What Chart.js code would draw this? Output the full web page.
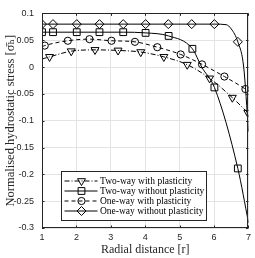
<!DOCTYPE html>
<html><head><meta charset="utf-8">
<script src="https://cdn.jsdelivr.net/npm/chart.js@4.4.0/dist/chart.umd.min.js"></script>
<style>html,body{margin:0;padding:0;background:#fff}</style>
</head><body>
<canvas id="c" width="255" height="258"></canvas>
<script>
// ---- data ----
const seriesNames = ["Two-way with plasticity","Two-way without plasticity","One-way with plasticity","One-way without plasticity"];
const xTicks = [1,2,3,4,5,6,7];
const yTicks = [0.1,0.05,0,-0.05,-0.1,-0.15,-0.2,-0.25,-0.3];
const yTickLabels = ["0.1","0.05","0","-0.05","-0.1","-0.15","-0.2","-0.25","-0.3"];

// Two-way with plasticity (triangles)
const twoWayPlastX = [1, 1.22, 1.85, 2.54, 3.21, 3.87, 4.54, 5.22, 5.87, 6.53, 6.98];
const twoWayPlastY = [0.015, 0.019, 0.0296, 0.032, 0.031, 0.028, 0.019, 0.0044, -0.021, -0.057, -0.085];
const twoWayPlastMarkX = [1.22, 1.85, 2.54, 3.21, 3.87, 4.54, 5.22, 5.87, 6.53, 6.98];
const twoWayPlastMarkY = [0.019, 0.0296, 0.032, 0.031, 0.028, 0.019, 0.0044, -0.021, -0.057, -0.085];

// Two-way without plasticity (squares)
const twoWayElasX = [1, 1.32, 2.01, 2.67, 3.36, 4.01, 4.68, 5.37, 5.64, 6.01, 6.69, 7];
const twoWayElasY = [0.065, 0.065, 0.065, 0.065, 0.065, 0.0637, 0.058, 0.034, 0.0, -0.038, -0.189, -0.29];
const twoWayElasMarkX = [1, 1.32, 2.01, 2.67, 3.36, 4.01, 4.68, 5.37, 6.01, 6.69];
const twoWayElasMarkY = [0.065, 0.065, 0.065, 0.065, 0.065, 0.0637, 0.058, 0.034, -0.038, -0.189];

// One-way with plasticity (circles)
const oneWayPlastX = [1, 1.08, 1.75, 2.38, 3.02, 3.70, 4.35, 5.03, 5.65, 6.30, 6.91, 7];
const oneWayPlastY = [0.038, 0.040, 0.049, 0.052, 0.049, 0.047, 0.037, 0.0235, 0.005, -0.0177, -0.041, -0.045];
const oneWayPlastMarkX = [1.08, 1.75, 2.38, 3.02, 3.70, 4.35, 5.03, 5.65, 6.30, 6.91];
const oneWayPlastMarkY = [0.040, 0.049, 0.052, 0.049, 0.047, 0.037, 0.0235, 0.005, -0.0177, -0.041];

// One-way without plasticity (diamonds)
const oneWayElasX = [1, 1.32, 2.01, 2.67, 3.36, 4.01, 4.67, 5.35, 6.01, 6.35, 6.5, 6.69, 6.86, 7];
const oneWayElasY = [0.08, 0.08, 0.08, 0.08, 0.08, 0.08, 0.08, 0.08, 0.08, 0.079, 0.071, 0.047, 0.0, -0.12];
const oneWayElasMarkX = [1, 1.32, 2.01, 2.67, 3.36, 4.01, 4.67, 5.35, 6.01, 6.69];
const oneWayElasMarkY = [0.08, 0.08, 0.08, 0.08, 0.08, 0.08, 0.08, 0.08, 0.08, 0.047];

const zip = (xs, ys) => xs.map((x, i) => ({x, y: ys[i]}));

const styles = [
  {dash:[5,2,1,2], point:'triangle', rot:180, r:4.6},
  {dash:[], point:'rect', rot:0, r:4.8},
  {dash:[4,3], point:'circle', rot:0, r:3.6},
  {dash:[], point:'rectRot', rot:0, r:4.5},
];
const lines = [zip(twoWayPlastX,twoWayPlastY), zip(twoWayElasX,twoWayElasY), zip(oneWayPlastX,oneWayPlastY), zip(oneWayElasX,oneWayElasY)];
const marks = [zip(twoWayPlastMarkX,twoWayPlastMarkY), zip(twoWayElasMarkX,twoWayElasMarkY), zip(oneWayPlastMarkX,oneWayPlastMarkY), zip(oneWayElasMarkX,oneWayElasMarkY)];

const datasets = [];
lines.forEach((d, i) => {
  datasets.push({label: seriesNames[i], data: d, borderColor:'#000', borderWidth:1, borderDash: styles[i].dash,
    pointRadius:0, cubicInterpolationMode:'monotone', fill:false});
  datasets.push({label: seriesNames[i] + ' markers', data: marks[i], showLine:false, pointStyle: styles[i].point,
    pointRotation: styles[i].rot, pointRadius: styles[i].r, pointBorderWidth:1, pointBorderColor:'#000',
    pointBackgroundColor:'rgba(0,0,0,0)', borderColor:'#000'});
});

const boxPlugin = {
  id:'boxAndLegend',
  afterDraw(chart){
    const ctx = chart.ctx, a = chart.chartArea;
    const xs = chart.scales.x, ys = chart.scales.y;
    ctx.save();
    ctx.strokeStyle = '#262626'; ctx.lineWidth = 1; ctx.setLineDash([]);
    ctx.strokeRect(Math.round(a.left)+0.5, Math.round(a.top)+0.5, Math.round(a.right-a.left)-1, Math.round(a.bottom-a.top)-1);
    // inward ticks
    ctx.beginPath();
    xTicks.forEach(v => { const p = Math.round(xs.getPixelForValue(v))+0.5;
      ctx.moveTo(p, a.bottom); ctx.lineTo(p, a.bottom-2.5); ctx.moveTo(p, a.top); ctx.lineTo(p, a.top+2.5); });
    yTicks.forEach(v => { const p = Math.round(ys.getPixelForValue(v))+0.5;
      ctx.moveTo(a.left, p); ctx.lineTo(a.left+2.5, p); ctx.moveTo(a.right, p); ctx.lineTo(a.right-2.5, p); });
    ctx.stroke();
    // legend
    const bx = Math.round(a.left + 19)+0.5, by = Math.round(a.top + 158)+0.5, bw = 145, bh = 49;
    ctx.fillStyle = '#fff'; ctx.fillRect(bx, by, bw, bh);
    ctx.strokeStyle = '#262626'; ctx.strokeRect(bx, by, bw, bh);
    ctx.font = '9.5px "Liberation Serif", serif';
    ctx.textBaseline = 'middle'; ctx.textAlign = 'left';
    seriesNames.forEach((name, i) => {
      const y = by + 9.5 + i*10;
      ctx.strokeStyle = '#000'; ctx.lineWidth = 1;
      ctx.setLineDash(styles[i].dash);
      ctx.beginPath(); ctx.moveTo(bx+3, y); ctx.lineTo(bx+36, y); ctx.stroke();
      ctx.setLineDash([]);
      ctx.fillStyle = 'rgba(0,0,0,0)';
      Chart.helpers.drawPoint(ctx, {pointStyle: styles[i].point, rotation: styles[i].rot, radius: styles[i].r, borderWidth:1}, bx+20, y);
      ctx.fillStyle = '#000';
      ctx.fillText(name, bx+38.5, y+0.5);
    });
    ctx.restore();
  }
};

new Chart(document.getElementById('c'), {
  type:'line',
  data:{datasets},
  options:{
    responsive:false, animation:false, devicePixelRatio:1,
    layout:{autoPadding:false, padding:{top:4, right:6, left:0, bottom:0}},
    plugins:{legend:{display:false}, tooltip:{enabled:false}},
    scales:{
      x:{type:'linear', min:1, max:7,
        afterBuildTicks: s => { s.ticks = xTicks.map(v => ({value:v})); },
        afterFit: s => { s.height = 30; },
        grid:{color:'#e3e3e3', drawTicks:false},
        border:{display:false},
        ticks:{padding:4, color:'#262626', font:{family:'"Liberation Sans", Arial, sans-serif', size:9}, maxRotation:0},
        title:{display:true, text:'Radial distance [r]', color:'#262626', padding:{top:0,bottom:1},
          font:{family:'"Liberation Serif", serif', size:12}}
      },
      y:{type:'linear', min:-0.3, max:0.1,
        afterBuildTicks: s => { s.ticks = yTicks.map(v => ({value:v})); },
        afterFit: s => { s.width = 42; },
        grid:{color:'#e3e3e3', drawTicks:false},
        border:{display:false},
        ticks:{padding:8, color:'#262626', font:{family:'"Liberation Sans", Arial, sans-serif', size:9},
          callback: (v, i) => yTickLabels[i]},
        title:{display:true, text:'Normalised hydrostatic stress [σ̄ₕ]', color:'#262626', padding:{top:3,bottom:0},
          font:{family:'"Liberation Serif", "DejaVu Serif", serif', size:12.5}}
      }
    }
  },
  plugins:[boxPlugin]
});
</script>
</body></html>
